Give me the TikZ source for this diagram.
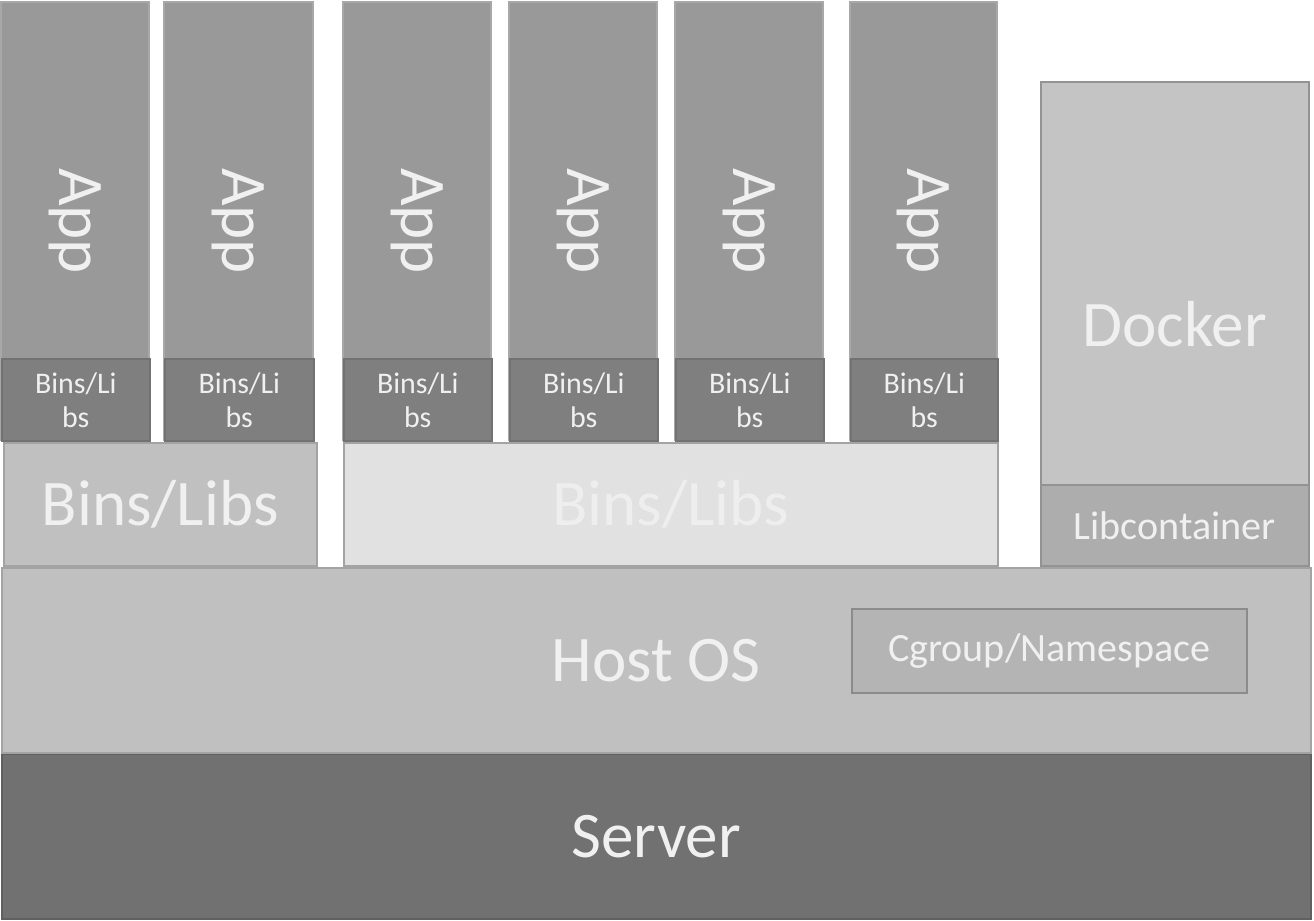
\documentclass[tikz,border=0pt]{standalone}
\usepackage{fontspec}
\setmainfont{Carlito}
\definecolor{appc}{HTML}{999999}
\definecolor{binsc}{HTML}{7F7F7F}
\definecolor{libl}{HTML}{C0C0C0}
\definecolor{libm}{HTML}{E1E1E1}
\definecolor{libmtxt}{HTML}{EEEEEE}
\definecolor{dockc}{HTML}{C4C4C4}
\definecolor{libcc}{HTML}{ADADAD}
\definecolor{hostc}{HTML}{C0C0C0}
\definecolor{cgc}{HTML}{B4B4B4}
\definecolor{servc}{HTML}{717171}
\definecolor{edgec}{HTML}{A3A3A3}
\definecolor{txtc}{HTML}{F0F0F0}
\newcommand{\myblk}[7]{%
  \node[#6, anchor=north west, minimum width={(#4-#2)*0.01cm}, minimum height={(#5-#3)*0.01cm}] (#1) at (#2,#3) {#7};}
\tikzset{
  blk/.style={draw=edgec, line width=0.45pt, inner sep=0pt, text=txtc, align=center},
  big/.style={font=\fontsize{18.5}{20}\selectfont},
  small/.style={font=\fontsize{8.5}{9.7}\selectfont},
  mid/.style={font=\fontsize{11.4}{13}\selectfont},
}
\begin{document}
\begin{tikzpicture}[x=0.01cm, y=-0.01cm]
\useasboundingbox[fill=white] (0,0) rectangle (1314,920);
% server and host
\myblk{server}{1}{753}{1310}{918}{blk, fill=servc, draw=servc!85!black, big}{Server}
\myblk{host}{1}{567}{1310}{752}{blk, fill=hostc, draw=edgec, big}{Host OS}
\myblk{cgroup}{851}{608}{1246}{692}{blk, fill=cgc, draw=edgec!85!black, mid}{Cgroup/Namespace}
% shared libs
\myblk{libsl}{3}{442}{316}{565}{blk, fill=libl, big}{Bins/Libs}
\myblk{libsm}{343}{442}{997}{565}{blk, fill=libm, text=libmtxt, big}{Bins/Libs}
% docker
\myblk{docker}{1040}{81}{1308}{565}{blk, fill=dockc, draw=edgec!90!black, big}{}
\node[text=txtc, big] (dockt) at (docker.center) {Docker};
\myblk{libcont}{1040}{484}{1308}{565}{blk, fill=libcc, draw=edgec!90!black, mid}{Libcontainer}
% app columns
\foreach \i/\xa/\xb in {1/1/149, 2/164/313, 3/343/491, 4/509/657, 5/675/823, 6/850/997}{
  \path[fill=appc, draw=appc!85!white, line width=0.45pt] (\xa,2) rectangle (\xb,440);
  \node[text=txtc, big, rotate=-90] (app\i) at ({(\xa+\xb)/2},221) {App};
  \myblk{bins\i}{\xa}{358}{\xb}{440}{blk, fill=binsc, draw=binsc!90!black, small}{Bins/Li\\bs}
}
\end{tikzpicture}
\end{document}
